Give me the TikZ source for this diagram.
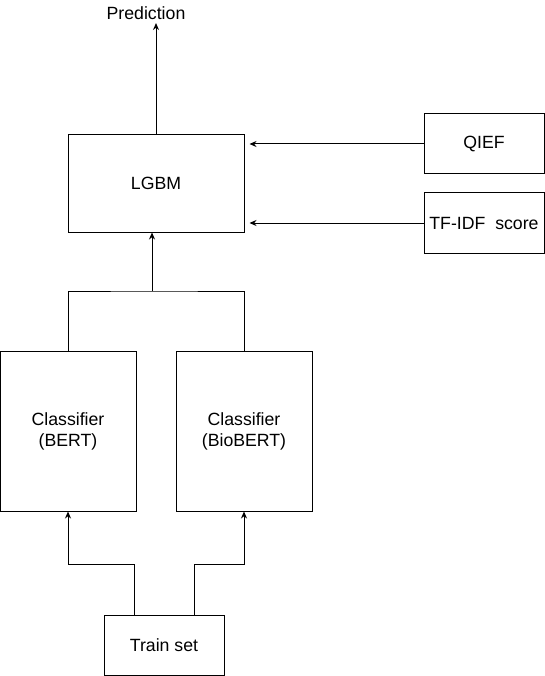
\documentclass[tikz,border=0pt]{standalone}
\usepackage{fontspec}
\setmainfont{Liberation Sans}
\usetikzlibrary{arrows.meta,positioning,calc}

\tikzset{
    blockbox/.style={draw,line width=1pt,inner sep=0pt,align=center,font=\fontsize{17.7}{21}\selectfont},
    flow/.style={line width=1pt,-{Stealth[length=7pt,width=6pt]}}
}

\begin{document}
\begin{tikzpicture}[x=1pt,y=-1pt]
    \useasboundingbox (0,0) rectangle (545,676);

    % Blocks
    \node[font=\fontsize{17.7}{21}\selectfont] (pred) at (146,13) {Prediction};
    \node[blockbox,minimum width=176pt,minimum height=97pt] (lgbm) at (156,183.5) {LGBM};
    \node[blockbox,minimum width=120pt,minimum height=60pt] (qief) at (484,144) {QIEF};
    \node[blockbox,minimum width=120pt,minimum height=60pt] (tfidf) at (484,223) {TF-IDF\ \ score};
    \node[blockbox,minimum width=136pt,minimum height=160pt] (bert) at (68,431) {Classifier\\(BERT)};
    \node[blockbox,minimum width=136pt,minimum height=160pt] (biobert) at (244,431) {Classifier\\(BioBERT)};
    \node[blockbox,minimum width=120pt,minimum height=60pt] (train) at (164,645) {Train set};

    % Junctions
    \coordinate (join) at (152,291);
    \coordinate (tl) at (134,564);
    \coordinate (tr) at (194,564);

    % Arrows
    \draw[flow] (lgbm.north) -- (lgbm.north |- pred.south);
    \draw[flow,shorten >=5pt] (qief.west) -- (qief.west -| lgbm.east);
    \draw[flow,shorten >=5pt] (tfidf.west) -- (tfidf.west -| lgbm.east);
    \draw[line width=1pt] (bert.north) |- (join) -| (biobert.north);
    \draw[flow] (join) -- (join |- lgbm.south);
    \draw[flow] (train.north -| tl) -- (tl) -| (bert.south);
    \draw[flow] (train.north -| tr) -- (tr) -| (biobert.south);
\end{tikzpicture}
\end{document}
